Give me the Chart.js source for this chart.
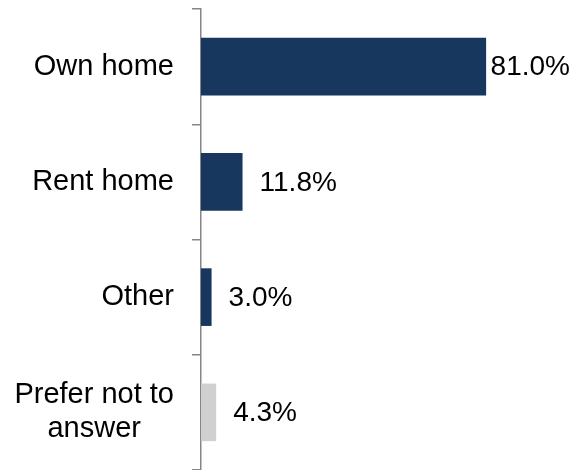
<!DOCTYPE html>
<html>
<head>
<meta charset="utf-8">
<script src="https://cdn.jsdelivr.net/npm/chart.js@4"></script>
<style>
  html, body { margin: 0; padding: 0; background: #fff; }
  #wrap { width: 576px; height: 470px; }
</style>
</head>
<body>
<div id="wrap"><canvas id="homeChart"></canvas></div>
<script>
const categories = ['Own home', 'Rent home', 'Other', ['Prefer not to', 'answer']];
const shares = [81.0, 11.8, 3.0, 4.3];
const barColors = ['#17375e', '#17375e', '#17375e', '#d0d0d0'];

const FONT = '"Liberation Sans", Arial, sans-serif';

// category labels: right-aligned block, multi-line centred inside it
const catLabels = {
    id: 'catLabels',
    afterDraw(chart) {
        const ctx = chart.ctx;
        const y = chart.scales.y;
        ctx.save();
        ctx.font = '29px ' + FONT;
        ctx.fillStyle = '#000';
        ctx.textAlign = 'center';
        ctx.textBaseline = 'middle';
        chart.data.labels.forEach((lab, i) => {
            const lines = Array.isArray(lab) ? lab : [lab];
            const w = Math.max(...lines.map(l => ctx.measureText(l).width));
            const cx = 174 - w / 2;
            const cy = y.getPixelForTick(i);
            const lh = 34;
            lines.forEach((l, j) => {
                ctx.fillText(l, cx, cy + (j - (lines.length - 1) / 2) * lh);
            });
        });
        ctx.restore();
    }
};

// value labels at bar ends
const valueLabels = {
    id: 'valueLabels',
    afterDatasetsDraw(chart) {
        const ctx = chart.ctx;
        const meta = chart.getDatasetMeta(0);
        ctx.save();
        ctx.font = '28px ' + FONT;
        ctx.fillStyle = '#000';
        ctx.textAlign = 'left';
        ctx.textBaseline = 'middle';
        meta.data.forEach((bar, i) => {
            const txt = shares[i].toFixed(1) + '%';
            const w = ctx.measureText(txt).width;
            let x = bar.x + 17;
            if (x + w > chart.width - 6) x = chart.width - 6 - w;
            ctx.fillText(txt, x, bar.y + 1);
        });
        ctx.restore();
    }
};

new Chart(document.getElementById('homeChart'), {
    type: 'bar',
    data: {
        labels: categories,
        datasets: [{
            data: shares,
            backgroundColor: barColors,
            categoryPercentage: 1,
            barPercentage: 0.5
        }]
    },
    options: {
        indexAxis: 'y',
        responsive: true,
        maintainAspectRatio: false,
        animation: false,
        layout: { padding: { top: 9, right: 23, bottom: 0, left: 0 } },
        plugins: { legend: { display: false }, tooltip: { enabled: false } },
        scales: {
            x: { display: false, min: 0, max: 100 },
            y: {
                afterFit(scale) { scale.width = 201; },
                border: { color: '#868686', width: 1.5 },
                grid: {
                    drawOnChartArea: false,
                    color: '#868686',
                    lineWidth: 1.5,
                    tickLength: 9,
                    offset: true
                },
                ticks: { display: false }
            }
        }
    },
    plugins: [catLabels, valueLabels]
});
</script>
</body>
</html>
